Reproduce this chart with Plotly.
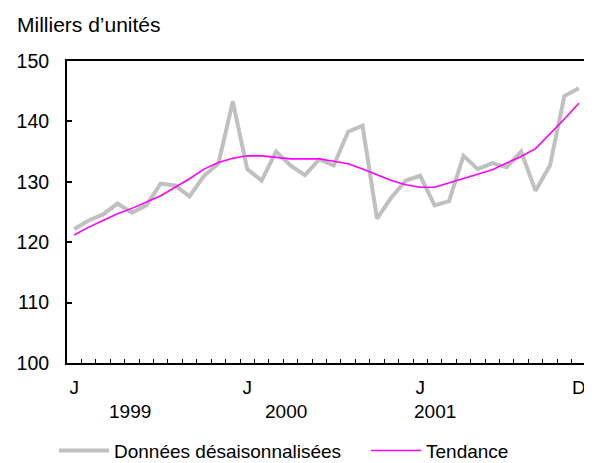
import plotly.graph_objects as go

years = ["1999", "2000", "2001"]
months = [f"{y}-{m:02d}" for y in years for m in range(1, 13)]

seasonally_adjusted = [122.2, 123.6, 124.6, 126.4, 124.9, 126.1, 129.7, 129.4, 127.6, 131.0, 133.0, 143.3,
                       132.1, 130.2, 135.0, 132.7, 131.1, 133.7, 132.7, 138.3, 139.3, 123.9, 127.4, 130.2,
                       131.0, 126.1, 126.8, 134.3, 132.1, 133.1, 132.4, 135.0, 128.5, 132.7, 144.2, 145.5]
trend = [121.2, 122.5, 123.6, 124.7, 125.6, 126.6, 127.7, 129.1, 130.5, 132.1, 133.2, 133.9,
         134.3, 134.3, 134.0, 133.8, 133.8, 133.8, 133.4, 133.0, 132.1, 131.1, 130.2, 129.5,
         129.1, 129.1, 129.8, 130.5, 131.3, 132.0, 133.1, 134.2, 135.5, 137.9, 140.4, 143.0]

shown_ticks = {"1999-01": "J", "2000-01": "J", "2001-01": "J", "2001-12": "D"}
tick_text = [shown_ticks.get(m, "") for m in months]
year_label_pos = [3.9, 14.7, 25.0]

FONT = "Liberation Sans, Arial, sans-serif"

# page has an 8px body margin, so the figure is sized to fit the window
W, H = 584, 455

fig = go.Figure()
fig.add_trace(go.Scatter(x=months, y=seasonally_adjusted, mode="lines",
                         name="Données désaisonnalisées", legend="legend",
                         line=dict(color="#c0c0c0", width=4)))
fig.add_trace(go.Scatter(x=months, y=trend, mode="lines", name="Tendance",
                         legend="legend2",
                         line=dict(color="#ff00ff", width=1.6)))

for pos, yr in zip(year_label_pos, years):
    fig.add_annotation(x=pos, y=-0.16, xref="x", yref="paper", text=yr,
                       showarrow=False, font=dict(size=19, color="black", family=FONT),
                       yanchor="middle")

legend_common = dict(orientation="h", xref="container", xanchor="left",
                     y=-0.29, yanchor="middle", font=dict(size=19, family=FONT),
                     itemwidth=50, bgcolor="rgba(0,0,0,0)")

fig.update_layout(
    width=W, height=H,
    margin=dict(l=59, r=6, t=53, b=100, autoexpand=False),
    paper_bgcolor="white", plot_bgcolor="white",
    font=dict(family=FONT, size=19, color="black"),
    title=dict(text="Milliers d’unités", x=9 / W, xref="container", xanchor="left",
               y=1 - 17 / H, yref="container", yanchor="middle",
               font=dict(size=21, family=FONT, color="black")),
    showlegend=True,
    legend=dict(x=46 / W, **legend_common),
    legend2=dict(x=358 / W, **legend_common),
    xaxis=dict(type="category", tickmode="array", tickvals=months, ticktext=tick_text,
               range=[-0.5, len(months) - 0.5],
               tickson="boundaries", ticks="inside", ticklen=4, tickwidth=1, tickcolor="black",
               showline=True, linecolor="black", linewidth=2, mirror=True,
               showgrid=False, zeroline=False, tickangle=0, automargin=False,
               ticklabelstandoff=6,
               tickfont=dict(size=19, family=FONT)),
    yaxis=dict(range=[100, 150], tickvals=[100, 110, 120, 130, 140, 150],
               ticks="inside", ticklen=5, tickwidth=2, tickcolor="black",
               showline=True, linecolor="black", linewidth=2, mirror=True,
               showgrid=False, zeroline=False, ticklabelstandoff=12, automargin=False,
               tickfont=dict(size=19.5, family=FONT)),
)

fig.write_html("out.html")
